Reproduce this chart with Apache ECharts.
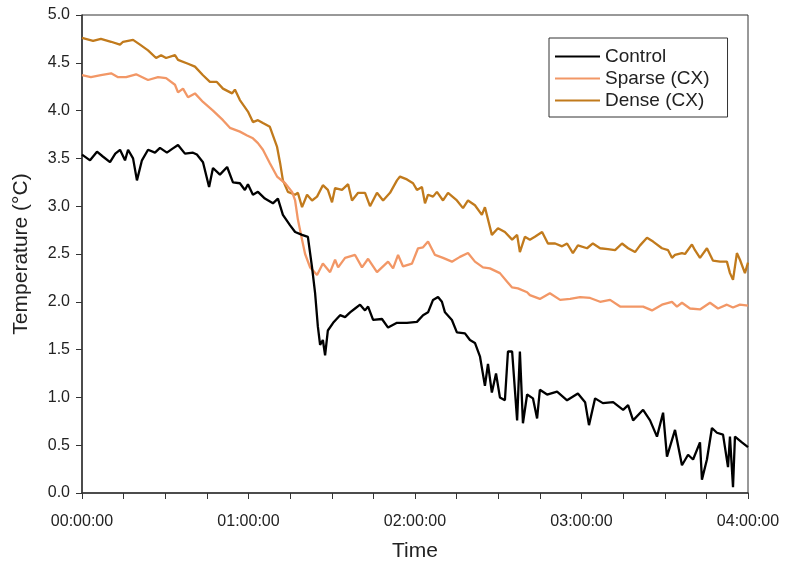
<!DOCTYPE html>
<html>
<head>
<meta charset="utf-8">
<script src="https://cdn.jsdelivr.net/npm/echarts@6/dist/echarts.min.js"></script>
<style>
html,body{margin:0;padding:0;background:#fff;}
#chart{width:792px;height:567px;}
</style>
</head>
<body>
<div id="chart"></div>
<script>
// Time in minutes from start, temperature in °C
const seriesNames = ['Control', 'Sparse (CX)', 'Dense (CX)'];
const xTickLabels = ['00:00:00', '01:00:00', '02:00:00', '03:00:00', '04:00:00'];

const controlData = [
[0,3.54],[2.9,3.48],[5.4,3.57],[7.5,3.52],[10.1,3.46],[12,3.55],[13.7,3.59],[15.5,3.48],[16.6,3.59],[18.4,3.5],[19.8,3.27],[21.6,3.48],
[23.8,3.59],[26.3,3.56],[28.1,3.61],[30.6,3.56],[32.5,3.6],[34.6,3.64],[37.1,3.55],[40.0,3.56],[41.4,3.54],[43.6,3.46],[45.8,3.2],
[47.2,3.4],[49.7,3.33],[52.3,3.41],[54.4,3.25],[56.9,3.24],[58.7,3.17],[59.8,3.23],[61.6,3.12],[63.4,3.15],[65.9,3.08],[68.8,3.03],
[70.6,3.08],[72.4,2.91],[75.0,2.8],[76.8,2.73],[79.3,2.7],[81.4,2.68],[82.9,2.36],[84.0,2.09],[85.0,1.74],[85.8,1.55],[86.8,1.6],
[87.6,1.44],[88.6,1.7],[90.5,1.78],[93.0,1.86],[94.8,1.84],[96.6,1.89],[98.4,1.93],[100.2,1.97],[102.0,1.91],[103.1,1.95],[104.9,1.81],
[108.1,1.82],[110.3,1.73],[113.5,1.78],[117.1,1.78],[120.7,1.79],[122.9,1.86],[124.7,1.89],[126.5,2.02],[128.3,2.05],[129.7,2.0],
[130.8,1.89],[133.3,1.81],[135.1,1.68],[138.0,1.67],[139.8,1.6],[141.6,1.57],[143.4,1.43],[145.2,1.12],[146.3,1.35],[147.7,1.05],
[149.2,1.25],[150.6,1.0],[152.4,0.97],[153.5,1.48],[155.0,1.48],[156.8,0.76],[157.8,1.48],[158.9,0.73],[160.4,1.03],[162.5,0.99],
[164.0,0.78],[165.0,1.08],[167.6,1.03],[171.2,1.06],[174.8,0.97],[178.7,1.04],[181.3,0.95],[182.7,0.71],[184.9,0.99],[187.7,0.94],
[191.4,0.95],[195.0,0.87],[196.8,0.92],[198.6,0.76],[202.2,0.87],[204.7,0.76],[207.2,0.59],[209.4,0.84],[210.8,0.38],[213.7,0.66],
[216.2,0.29],[218.4,0.4],[220.2,0.35],[222.7,0.53],[223.4,0.14],[225.2,0.35],[227.0,0.68],[228.8,0.63],[231.0,0.61],[232.8,0.27],
[233.5,0.59],[234.6,0.06],[235.3,0.59],[237.8,0.53],[240,0.48]
];

const sparseData = [
[0,4.37],[3.2,4.35],[6.8,4.37],[10.5,4.39],[13.0,4.35],[15.9,4.35],[19.5,4.38],[23.8,4.32],[27.4,4.35],[30.3,4.34],[33.5,4.27],
[34.6,4.19],[36.4,4.23],[38.2,4.14],[40.7,4.18],[43.6,4.09],[47.2,4.0],[50.8,3.9],[53.3,3.82],[56.9,3.78],[59.5,3.74],[61.6,3.71],
[63.4,3.66],[65.2,3.59],[67.7,3.45],[70.3,3.31],[73.2,3.24],[75.7,3.15],[76.8,3.06],[77.8,2.86],[79.3,2.65],[80.4,2.5],[82.2,2.36],
[84.7,2.28],[86.8,2.4],[89.4,2.31],[91.2,2.44],[92.3,2.36],[94.8,2.46],[98.4,2.49],[100.9,2.36],[103.1,2.45],[106.3,2.31],[108.1,2.36],
[110.3,2.42],[112.1,2.35],[113.9,2.49],[115.7,2.37],[118.9,2.4],[121.1,2.56],[122.9,2.57],[124.7,2.63],[127.2,2.49],[130.1,2.46],
[133.3,2.42],[136.2,2.47],[139.1,2.51],[141.6,2.42],[144.5,2.36],[147.0,2.35],[150.6,2.3],[153.2,2.21],[155.0,2.15],[157.1,2.14],
[160.4,2.1],[161.4,2.07],[165.0,2.03],[168.6,2.09],[172.3,2.02],[175.9,2.03],[179.5,2.05],[183.1,2.04],[186.7,2.0],[190.3,2.02],
[193.9,1.95],[197.5,1.95],[202.2,1.95],[205.4,1.91],[209.0,1.97],[212.6,2.0],[214.4,1.95],[216.2,1.99],[219.1,1.93],[222.7,1.92],
[226.3,1.99],[229.2,1.93],[232.4,1.97],[234.6,1.94],[237.1,1.97],[240,1.96]
];

const denseData = [
[0,4.76],[4.0,4.73],[6.8,4.75],[10.5,4.72],[13.7,4.69],[14.8,4.72],[18.4,4.74],[20.9,4.69],[23.8,4.63],[26.7,4.55],[28.5,4.58],
[30.3,4.55],[33.5,4.58],[34.6,4.53],[38.2,4.49],[40.7,4.46],[43.6,4.37],[46.1,4.3],[48.6,4.3],[50.8,4.23],[54.1,4.18],[55.1,4.22],
[56.9,4.11],[59.8,3.99],[61.6,3.88],[63.4,3.9],[65.2,3.87],[67.7,3.83],[68.8,3.74],[70.3,3.62],[71.4,3.45],[72.4,3.27],[74.2,3.15],
[76.8,3.12],[77.8,3.14],[79.3,2.99],[81.1,3.12],[82.9,3.06],[84.7,3.1],[86.8,3.22],[88.6,3.17],[90.1,3.04],[91.2,3.19],[93.7,3.17],
[95.9,3.23],[97.3,3.06],[99.5,3.14],[102.0,3.14],[103.8,3.0],[106.3,3.14],[108.5,3.06],[111.0,3.14],[113.5,3.27],[114.6,3.31],
[117.1,3.28],[119.3,3.24],[120.7,3.17],[122.5,3.2],[123.6,3.03],[124.7,3.12],[126.5,3.1],[127.9,3.15],[130.1,3.06],[131.9,3.14],
[135.1,3.06],[137.3,2.98],[139.1,3.06],[141.6,3.01],[144.1,2.91],[145.2,2.99],[147.7,2.7],[149.9,2.77],[152.4,2.73],[155.0,2.65],
[156.8,2.7],[157.8,2.52],[159.6,2.68],[161.4,2.65],[163.2,2.68],[165.8,2.73],[167.9,2.61],[170.5,2.61],[173.0,2.58],[174.8,2.61],
[176.9,2.51],[178.7,2.59],[182.0,2.56],[184.1,2.61],[186.7,2.56],[189.5,2.55],[192.1,2.54],[194.6,2.61],[196.8,2.56],[199.3,2.52],
[201.1,2.59],[203.6,2.67],[205.8,2.63],[209.0,2.56],[211.2,2.54],[212.6,2.46],[213.7,2.49],[216.2,2.51],[217.3,2.5],[219.8,2.6],
[220.9,2.54],[222.7,2.46],[225.2,2.56],[227.4,2.43],[229.9,2.42],[232.4,2.42],[233.5,2.3],[234.6,2.23],[236.0,2.51],[237.1,2.44],
[238.9,2.3],[240,2.41]
];

const seriesColors = ['#000000', '#F29766', '#C17A1C'];
const FONT = 'Liberation Sans, Arial, sans-serif';

const chart = echarts.init(document.getElementById('chart'), null, {renderer: 'canvas'});
const datasets = [controlData, sparseData, denseData];

chart.setOption({
  animation: false,
  backgroundColor: '#ffffff',
  grid: {
    left: 82, top: 15, width: 666, height: 478,
    show: true, borderColor: '#333', borderWidth: 1, backgroundColor: 'transparent'
  },
  legend: {
    orient: 'vertical',
    left: 549, top: 38,
    padding: [9, 18, 7, 6],
    itemGap: 3,
    itemWidth: 45, itemHeight: 2,
    icon: 'rect',
    borderColor: '#333', borderWidth: 1,
    textStyle: {fontFamily: FONT, fontSize: 19, color: '#222'},
    data: seriesNames
  },
  xAxis: {
    type: 'value', min: 0, max: 240, interval: 60,
    name: 'Time', nameLocation: 'middle', nameGap: 48,
    nameTextStyle: {fontFamily: FONT, fontSize: 21, color: '#222'},
    axisLine: {show: true, lineStyle: {color: '#333', width: 1.5}},
    axisTick: {show: true, inside: false, length: 6, lineStyle: {color: '#333'}},
    minorTick: {show: true, splitNumber: 4, length: 6, lineStyle: {color: '#333'}},
    splitLine: {show: false},
    axisLabel: {
      fontFamily: FONT, fontSize: 16, color: '#222', margin: 21,
      formatter: v => xTickLabels[Math.round(v / 60)] || ''
    }
  },
  yAxis: {
    type: 'value', min: 0, max: 5, interval: 0.5,
    name: 'Temperature (°C)', nameLocation: 'middle', nameGap: 50,
    nameTextStyle: {fontFamily: FONT, fontSize: 21, color: '#222'},
    axisLine: {show: true, lineStyle: {color: '#333', width: 1.5}},
    axisTick: {show: true, inside: false, length: 6, lineStyle: {color: '#333'}},
    splitLine: {show: false},
    axisLabel: {
      fontFamily: FONT, fontSize: 16, color: '#222', margin: 12,
      formatter: v => v.toFixed(1)
    }
  },
  series: seriesNames.map((n, i) => ({
    name: n, type: 'line', data: datasets[i],
    showSymbol: false, symbol: 'none',
    lineStyle: {color: seriesColors[i], width: 2.3},
    itemStyle: {color: seriesColors[i]},
    z: 3 - i
  }))
});
</script>
</body>
</html>
